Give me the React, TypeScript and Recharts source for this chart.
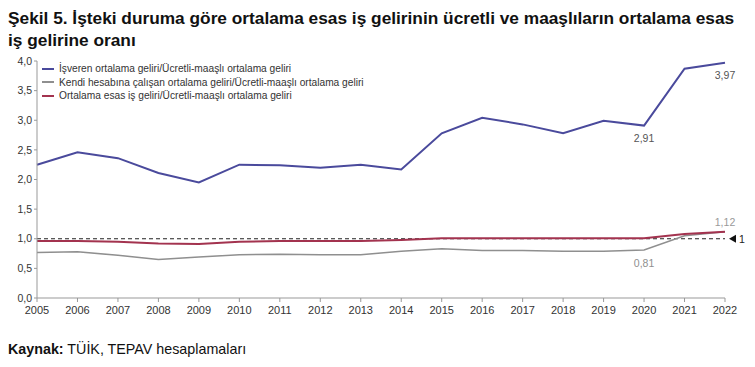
import { LineChart, Line, XAxis, YAxis, ReferenceLine, LabelList } from 'recharts'

const years = ['2005', '2006', '2007', '2008', '2009', '2010', '2011', '2012', '2013', '2014', '2015', '2016', '2017', '2018', '2019', '2020', '2021', '2022']
const isveren = [2.25, 2.46, 2.36, 2.11, 1.95, 2.25, 2.24, 2.2, 2.25, 2.17, 2.78, 3.04, 2.93, 2.78, 2.99, 2.91, 3.87, 3.97]
const kendi = [0.77, 0.78, 0.72, 0.65, 0.69, 0.73, 0.74, 0.73, 0.73, 0.79, 0.83, 0.8, 0.8, 0.79, 0.79, 0.81, 1.05, 1.12]
const ortalama = [0.96, 0.96, 0.95, 0.92, 0.91, 0.95, 0.96, 0.96, 0.96, 0.98, 1.01, 1.01, 1.01, 1.01, 1.01, 1.01, 1.08, 1.12]
const yTicks = [0, 0.5, 1, 1.5, 2, 2.5, 3, 3.5, 4]

// which points get a value label
const isverenLabels = ['2020', '2022']
const kendiLabels = ['2020']
const ortalamaLabels = ['2022']

const BLUE = '#4a4a9c'
const GRAY = '#8f8f8f'
const RED = '#a3334f'

const data = years.map((y, i) => ({ year: y, isveren: isveren[i], kendi: kendi[i], ortalama: ortalama[i] }))

const legendItems = [
  { name: 'İşveren ortalama geliri/Ücretli-maaşlı ortalama geliri', color: BLUE },
  { name: 'Kendi hesabına çalışan ortalama geliri/Ücretli-maaşlı ortalama geliri', color: GRAY },
  { name: 'Ortalama esas iş geliri/Ücretli-maaşlı ortalama geliri', color: RED },
]

const fmt = (v: number) => v.toFixed(2).replace('.', ',')

function makeLabel(show: string[], color: string, dy: number) {
  return (props: any) => {
    const { x, y, value, index } = props
    if (!show.includes(years[index])) return null
    return (
      <text x={x} y={y + dy} fill={color} fontSize={10.5} textAnchor="middle">
        {fmt(value)}
      </text>
    )
  }
}

function OneMarker(props: any) {
  const { viewBox } = props
  const x = viewBox.x + viewBox.width
  const y = viewBox.y
  return (
    <g>
      <polygon points={`${x + 4},${y} ${x + 11},${y - 4} ${x + 11},${y + 4}`} fill="#111" />
      <text x={x + 14} y={y + 4} fontSize={10.5} fill="#222">1</text>
    </g>
  )
}

export default function App() {
  return (
    <div style={{ position: 'absolute', left: 0, top: 0, width: 755, height: 367, background: '#fff', fontFamily: '"Liberation Sans", Arial, sans-serif' }}>
      <div style={{ position: 'absolute', left: 8, top: 7, fontFamily: '"Liberation Sans Narrow", "Liberation Sans", sans-serif', fontWeight: 'bold', fontSize: 17.3, lineHeight: '22px', color: '#111', width: 736 }}>
        Şekil 5. İşteki duruma göre ortalama esas iş gelirinin ücretli ve maaşlıların ortalama esas iş gelirine oranı
      </div>
      <div style={{ position: 'absolute', top: 0, left: 0 }}>
        <LineChart width={755} height={367} data={data} margin={{ top: 61, right: 30, bottom: 49, left: 0 }}>
          <XAxis
            dataKey="year"
            tick={{ fill: '#333', fontSize: 11, dy: 2 }}
            tickSize={4}
            axisLine={{ stroke: '#999' }}
            tickLine={{ stroke: '#999' }}
            height={20}
            interval={0}
          />
          <YAxis
            domain={[0, 4]}
            ticks={yTicks}
            width={37}
            tick={{ fill: '#333', fontSize: 10.5 }}
            tickSize={3}
            axisLine={{ stroke: '#999' }}
            tickLine={{ stroke: '#999' }}
            tickFormatter={(v: number) => v.toFixed(1).replace('.', ',')}
          />
          <ReferenceLine y={1} stroke="#222" strokeDasharray="4 3" label={<OneMarker />} />
          <Line dataKey="kendi" stroke={GRAY} strokeWidth={1.5} dot={false} isAnimationActive={false}>
            <LabelList dataKey="kendi" content={makeLabel(kendiLabels, GRAY, 17)} />
          </Line>
          <Line dataKey="ortalama" stroke={RED} strokeWidth={2} dot={false} isAnimationActive={false}>
            <LabelList dataKey="ortalama" content={makeLabel(ortalamaLabels, '#999', -6)} />
          </Line>
          <Line dataKey="isveren" stroke={BLUE} strokeWidth={2} dot={false} isAnimationActive={false}>
            <LabelList dataKey="isveren" content={makeLabel(isverenLabels, '#555', 16)} />
          </Line>
        </LineChart>
      </div>
      <div style={{ position: 'absolute', left: 42, top: 62, fontSize: 10.2, color: '#333', lineHeight: '13.5px' }}>
        {legendItems.map((l) => (
          <div key={l.name} style={{ display: 'flex', alignItems: 'center' }}>
            <span style={{ display: 'inline-block', width: 12, height: 2, background: l.color, marginRight: 5 }} />
            {l.name}
          </div>
        ))}
      </div>
      <div style={{ position: 'absolute', left: 8, top: 341, fontSize: 14.3, color: '#111' }}>
        <b>Kaynak:</b> TÜİK, TEPAV hesaplamaları
      </div>
    </div>
  )
}
